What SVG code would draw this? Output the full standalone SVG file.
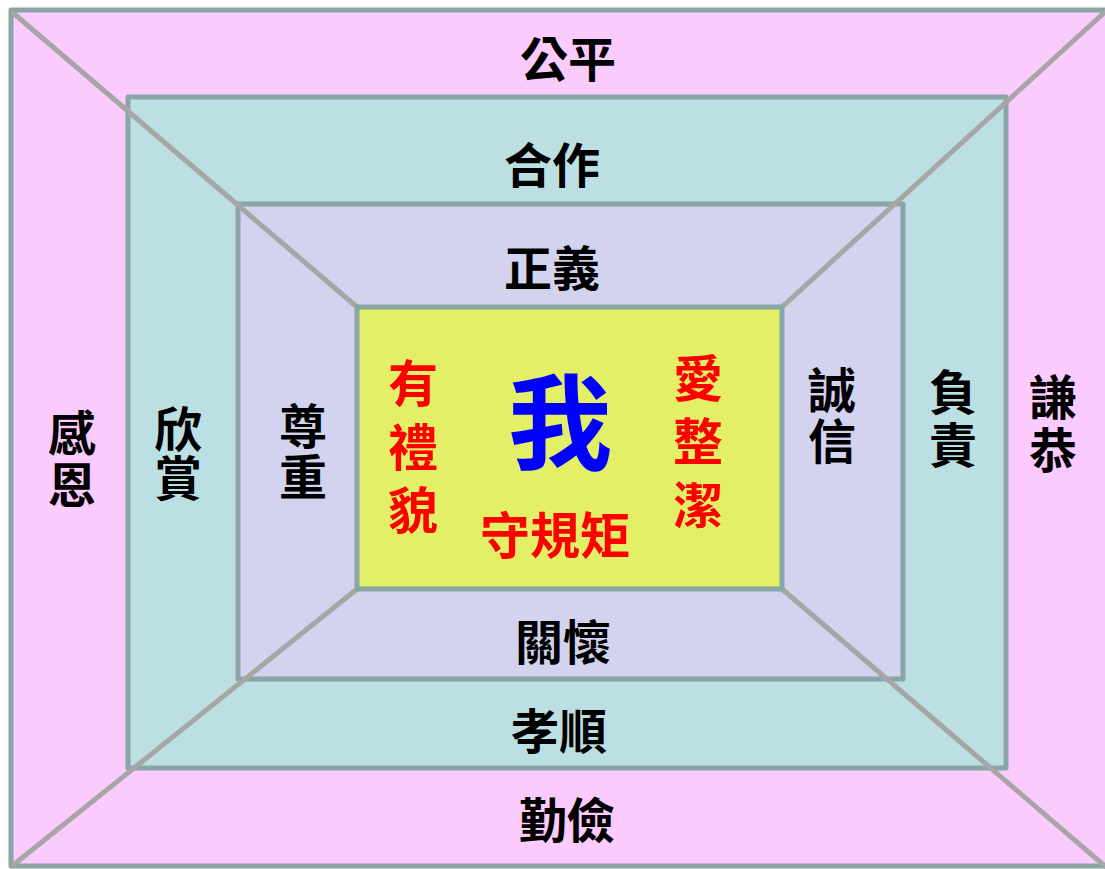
<svg xmlns="http://www.w3.org/2000/svg" width="1105" height="869" viewBox="0 0 1105 869">
<style>
.box{stroke:#8aa5a6;stroke-width:5;stroke-linejoin:round}
.diag{stroke:#a6a6a6;stroke-width:5;fill:none}
.t{font-family:"Noto Sans CJK TC","Noto Sans CJK SC",sans-serif;font-weight:700;text-anchor:middle}
.k{font-size:48px;fill:#000}
.r{font-size:50px;fill:#ff0000}
</style>
<rect width="1105" height="869" fill="#ffffff"/>
<g id="ring-outer">
<rect class="box" x="11" y="10" width="1110" height="856" fill="#fccbfd"/>
</g>
<g id="ring-middle">
<rect class="box" x="128" y="97" width="878" height="671" fill="#bbdfe2"/>
</g>
<g id="ring-inner">
<rect class="box" x="238" y="204" width="665" height="475" fill="#d3d3f0"/>
</g>
<g id="connectors">
<line class="diag" x1="12" y1="12" x2="357" y2="307"/>
<line class="diag" x1="1106" y1="11" x2="782" y2="307"/>
<line class="diag" x1="12" y1="866" x2="357" y2="589"/>
<line class="diag" x1="1106" y1="867" x2="782" y2="589"/>
</g>
<g id="center">
<rect class="box" x="357" y="307" width="425" height="282" fill="#e3ef67"/>
<text class="t" x="560" y="462" font-size="104" fill="#0000ff">我</text>
<text class="t r" x="413"><tspan x="413" y="402">有</tspan><tspan x="413" y="466">禮</tspan><tspan x="413" y="529">貌</tspan></text>
<text class="t r" x="698"><tspan x="698" y="397">愛</tspan><tspan x="698" y="460">整</tspan><tspan x="698" y="524">潔</tspan></text>
<text class="t r" x="555" y="554">守規矩</text>
</g>
<g id="labels-outer">
<text class="t k" x="568" y="77">公平</text>
<text class="t k" x="567" y="838">勤儉</text>
<text class="t k"><tspan x="72" y="451">感</tspan><tspan x="72" y="503">恩</tspan></text>
<text class="t k"><tspan x="1053" y="415">謙</tspan><tspan x="1053" y="468">恭</tspan></text>
</g>
<g id="labels-middle">
<text class="t k" x="552" y="183">合作</text>
<text class="t k" x="559" y="749">孝順</text>
<text class="t k"><tspan x="178" y="447">欣</tspan><tspan x="178" y="496">賞</tspan></text>
<text class="t k"><tspan x="953" y="410">負</tspan><tspan x="953" y="463">責</tspan></text>
</g>
<g id="labels-inner">
<text class="t k" x="552" y="286">正義</text>
<text class="t k" x="563" y="660">關懷</text>
<text class="t k"><tspan x="303" y="444">尊</tspan><tspan x="303" y="495">重</tspan></text>
<text class="t k"><tspan x="832" y="408">誠</tspan><tspan x="832" y="459">信</tspan></text>
</g>
</svg>
